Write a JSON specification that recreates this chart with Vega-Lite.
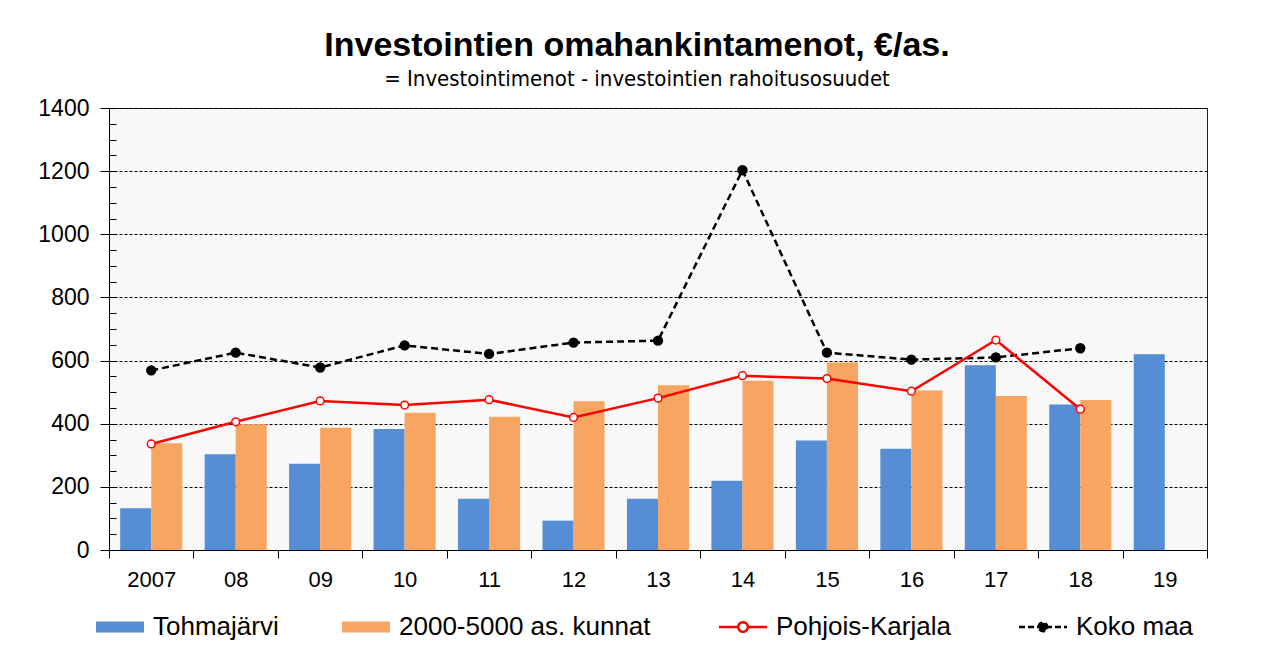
{
  "$schema": "https://vega.github.io/schema/vega-lite/v6.json",
  "autosize": {"type": "none"},
  "padding": {"left": 109, "top": 108, "right": 56, "bottom": 100},
  "width": 1098,
  "height": 442,
  "background": "white",
  "title": {
    "text": "Investointien omahankintamenot, €/as.",
    "subtitle": "= Investointimenot  - investointien rahoitusosuudet",
    "anchor": "middle",
    "dx": -21,
    "offset": 7,
    "font": "Liberation Sans",
    "fontSize": 34,
    "fontWeight": "bold",
    "color": "black",
    "subtitleFont": "Liberation Sans Narrow, DejaVu Sans Condensed, sans-serif",
    "subtitleFontSize": 22,
    "subtitleColor": "black",
    "subtitlePadding": 6
  },
  "config": {
    "view": {"fill": "#f8f8f8", "stroke": "#222222", "strokeWidth": 1},
    "axis": {"labelFont": "Liberation Sans", "labelColor": "black", "domainColor": "black", "tickColor": "black", "title": null}
  },
  "data": {
    "values": [
      {"year": "2007", "series": "Tohmajärvi", "value": 132},
      {"year": "08", "series": "Tohmajärvi", "value": 303},
      {"year": "09", "series": "Tohmajärvi", "value": 273},
      {"year": "10", "series": "Tohmajärvi", "value": 383},
      {"year": "11", "series": "Tohmajärvi", "value": 162},
      {"year": "12", "series": "Tohmajärvi", "value": 93},
      {"year": "13", "series": "Tohmajärvi", "value": 162},
      {"year": "14", "series": "Tohmajärvi", "value": 219},
      {"year": "15", "series": "Tohmajärvi", "value": 347},
      {"year": "16", "series": "Tohmajärvi", "value": 321},
      {"year": "17", "series": "Tohmajärvi", "value": 585},
      {"year": "18", "series": "Tohmajärvi", "value": 461},
      {"year": "19", "series": "Tohmajärvi", "value": 620},
      {"year": "2007", "series": "2000-5000 as. kunnat", "value": 338},
      {"year": "08", "series": "2000-5000 as. kunnat", "value": 398},
      {"year": "09", "series": "2000-5000 as. kunnat", "value": 387},
      {"year": "10", "series": "2000-5000 as. kunnat", "value": 435},
      {"year": "11", "series": "2000-5000 as. kunnat", "value": 422},
      {"year": "12", "series": "2000-5000 as. kunnat", "value": 471},
      {"year": "13", "series": "2000-5000 as. kunnat", "value": 522},
      {"year": "14", "series": "2000-5000 as. kunnat", "value": 536},
      {"year": "15", "series": "2000-5000 as. kunnat", "value": 594},
      {"year": "16", "series": "2000-5000 as. kunnat", "value": 505},
      {"year": "17", "series": "2000-5000 as. kunnat", "value": 488},
      {"year": "18", "series": "2000-5000 as. kunnat", "value": 475},
      {"year": "2007", "series": "Pohjois-Karjala", "value": 336},
      {"year": "08", "series": "Pohjois-Karjala", "value": 406},
      {"year": "09", "series": "Pohjois-Karjala", "value": 472},
      {"year": "10", "series": "Pohjois-Karjala", "value": 459},
      {"year": "11", "series": "Pohjois-Karjala", "value": 476},
      {"year": "12", "series": "Pohjois-Karjala", "value": 420},
      {"year": "13", "series": "Pohjois-Karjala", "value": 481},
      {"year": "14", "series": "Pohjois-Karjala", "value": 552},
      {"year": "15", "series": "Pohjois-Karjala", "value": 543},
      {"year": "16", "series": "Pohjois-Karjala", "value": 503},
      {"year": "17", "series": "Pohjois-Karjala", "value": 665},
      {"year": "18", "series": "Pohjois-Karjala", "value": 446},
      {"year": "2007", "series": "Koko maa", "value": 569},
      {"year": "08", "series": "Koko maa", "value": 625},
      {"year": "09", "series": "Koko maa", "value": 578},
      {"year": "10", "series": "Koko maa", "value": 648},
      {"year": "11", "series": "Koko maa", "value": 621},
      {"year": "12", "series": "Koko maa", "value": 657},
      {"year": "13", "series": "Koko maa", "value": 663},
      {"year": "14", "series": "Koko maa", "value": 1203},
      {"year": "15", "series": "Koko maa", "value": 625},
      {"year": "16", "series": "Koko maa", "value": 603},
      {"year": "17", "series": "Koko maa", "value": 610},
      {"year": "18", "series": "Koko maa", "value": 639}
    ]
  },
  "encoding": {
    "x": {
      "field": "year",
      "type": "nominal",
      "scale": {"domain": ["2007", "08", "09", "10", "11", "12", "13", "14", "15", "16", "17", "18", "19"], "paddingInner": 0, "paddingOuter": 0},
      "axis": {"labelAngle": 0, "tickBand": "extent", "tickSize": 8, "labelFontSize": 22, "labelPadding": 11, "grid": false, "domainWidth": 1}
    },
    "color": {
      "field": "series", "type": "nominal",
      "scale": {"domain": ["Tohmajärvi", "2000-5000 as. kunnat", "Pohjois-Karjala", "Koko maa"], "range": ["#558ed5", "#f9a562", "#ff0000", "#000000"]},
      "legend": {
        "title": null,
        "orient": "none",
        "legendX": -2,
        "legendY": 506,
        "direction": "horizontal",
        "columns": 4,
        "columnPadding": 63,
        "padding": 0,
        "symbolSize": 2304,
        "labelFont": "Liberation Sans",
        "labelFontSize": 26,
        "labelColor": "black",
        "labelOffset": 20,
        "labelLimit": 400,
        "encode": {
          "symbols": {
            "update": {
              "shape": {"signal": "datum.value === 'Pohjois-Karjala' ? 'M-1,0H-0.2M0.2,0H1M-0.2,0A0.2,0.2 0 1,1 0.2,0A0.2,0.2 0 1,1 -0.2,0Z' : datum.value === 'Koko maa' ? 'M-1,0H1M-0.18,0A0.18,0.18 0 1,1 0.18,0A0.18,0.18 0 1,1 -0.18,0Z' : 'M-1,-0.23H1V0.23H-1Z'"},
              "fill": {"signal": "datum.value === 'Tohmajärvi' ? '#558ed5' : datum.value === 'Pohjois-Karjala' ? '#ffffff' : datum.value === 'Koko maa' ? '#000000' : '#f9a562'"},
              "stroke": {"signal": "datum.value === 'Pohjois-Karjala' ? '#ff0000' : datum.value === 'Koko maa' ? '#000000' : 'transparent'"},
              "strokeWidth": {"signal": "datum.value === 'Pohjois-Karjala' || datum.value === 'Koko maa' ? 2.5 : 0"},
              "strokeDash": {"signal": "datum.value === 'Koko maa' ? [6, 3] : [1, 0]"},
              "opacity": {"value": 1},
              "fillOpacity": {"signal": "datum.value === 'Pohjois-Karjala' ? 0 : 1"},
              "strokeOpacity": {"value": 1}
            }
          }
        }
      }
    }
  },
  "layer": [
    {
      "transform": [{"filter": "datum.series === 'Tohmajärvi' || datum.series === '2000-5000 as. kunnat'"}],
      "mark": {"type": "bar", "strokeWidth": 0},
      "encoding": {
        "xOffset": {"field": "series", "type": "nominal", "scale": {"domain": ["Tohmajärvi", "2000-5000 as. kunnat"], "paddingInner": 0, "paddingOuter": 0.36}},
        "y": {
          "field": "value", "type": "quantitative",
          "scale": {"domain": [0, 1400], "nice": false},
          "axis": {"orient": "left", "values": [0, 200, 400, 600, 800, 1000, 1200, 1400], "format": "d", "grid": true, "gridColor": "black", "gridDash": [3, 2], "gridWidth": 1, "gridOpacity": 1, "tickSize": 9, "labelFontSize": 23, "labelPadding": 11}
        }
      }
    },
    {
      "transform": [{"filter": "datum.series === 'Koko maa'"}],
      "mark": {"type": "line", "strokeWidth": 2.5, "strokeDash": [7, 4]},
      "encoding": {
        "y": {"field": "value", "type": "quantitative", "axis": null}
      }
    },
    {
      "transform": [{"filter": "datum.series === 'Koko maa'"}],
      "mark": {"type": "point", "filled": true, "size": 70, "opacity": 1},
      "encoding": {
        "y": {"field": "value", "type": "quantitative", "axis": null},
        "fill": {"value": "black"},
        "stroke": {"value": "black"}
      }
    },
    {
      "transform": [{"filter": "datum.series === 'Pohjois-Karjala'"}],
      "mark": {"type": "line", "strokeWidth": 2.5},
      "encoding": {
        "y": {"field": "value", "type": "quantitative", "axis": null}
      }
    },
    {
      "transform": [{"filter": "datum.series === 'Pohjois-Karjala'"}],
      "mark": {"type": "point", "filled": true, "strokeWidth": 1.5, "size": 60, "opacity": 1},
      "encoding": {
        "y": {
          "field": "value", "type": "quantitative",
          "axis": {"orient": "left", "values": [0, 50, 100, 150, 200, 250, 300, 350, 400, 450, 500, 550, 600, 650, 700, 750, 800, 850, 900, 950, 1000, 1050, 1100, 1150, 1200, 1250, 1300, 1350, 1400], "tickSize": -7, "labels": false, "domain": false, "grid": false}
        },
        "fill": {"value": "white"},
        "stroke": {"value": "#ff0000"}
      }
    }
  ],
  "resolve": {"axis": {"y": "independent"}}
}
